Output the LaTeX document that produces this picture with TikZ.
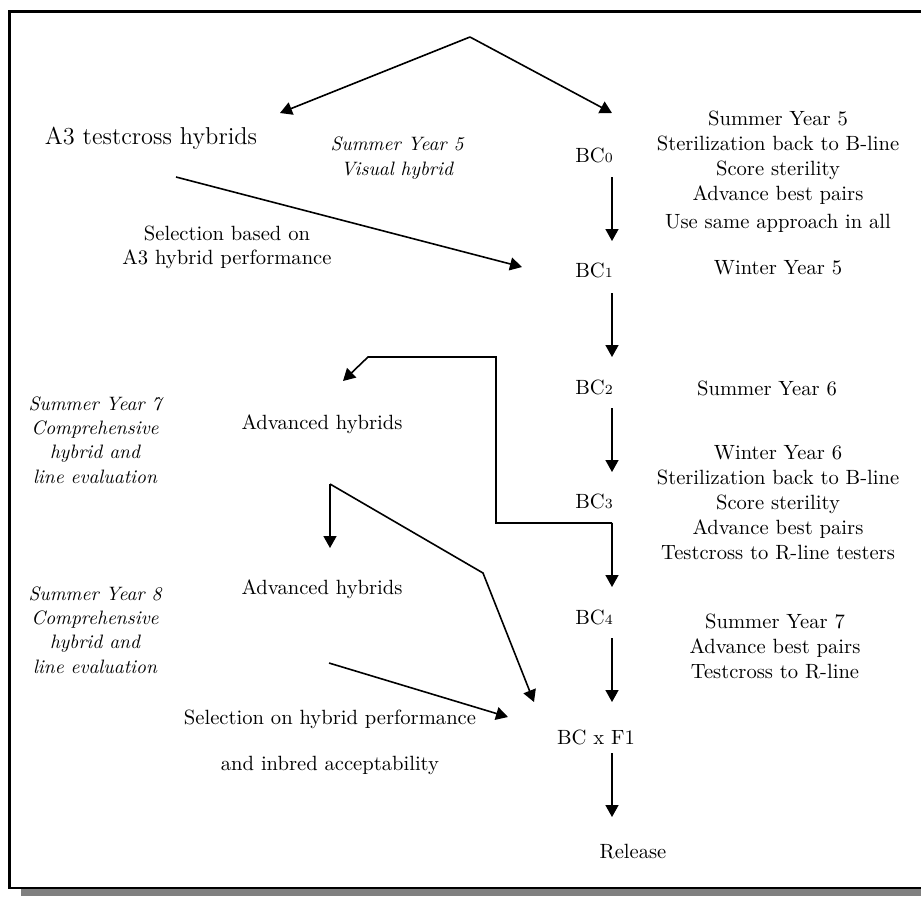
\documentclass[tikz,border=0pt]{standalone}
\usetikzlibrary{arrows.meta}

\newcommand{\gen}[1]{BC{\scriptsize #1}}

\tikzset{
  flow/.style={line width=0.8pt,-{Triangle[length=6pt,width=6.5pt]}},
  txt/.style={inner sep=0pt,align=center,font=\fontsize{10.3}{12.5}\selectfont},
  note/.style={inner sep=0pt,align=center,font=\fontsize{9.7}{12.2}\selectfont\itshape},
}

\begin{document}
\begin{tikzpicture}[x=0.5pt,y=-0.5pt]
    \useasboundingbox (0,0) rectangle (921,896);
    \clip (0,0) rectangle (921,896);
    % frame and its shadow
    \fill[black!50] (21,24) rectangle (960,896);
    \filldraw[fill=white,line width=1.3pt] (9.3,11.3) rectangle (950,888);

    % generations
    \node[txt] (bc0) at (594,155) {\gen{0}};
    \node[txt] (bc1) at (594,270) {\gen{1}};
    \node[txt] (bc2) at (594,387) {\gen{2}};
    \node[txt] (bc3) at (594,501) {\gen{3}};
    \node[txt] (bc4) at (594,617) {\gen{4}};
    \node[txt] (bcf) at (596,737) {BC x F1};
    \node[txt] (rel) at (633,852) {Release};

    % seasons
    \node[txt] (s0) at (778,172) {Summer Year 5\\Sterilization back to B-line\\Score sterility\\Advance best pairs\\[1.5pt]Use same approach in all};
    \node[txt] (s1) at (778,268) {Winter Year 5};
    \node[txt] (s2) at (767,388) {Summer Year 6};
    \node[txt] (s3) at (778,503) {Winter Year 6\\Sterilization back to B-line\\Score sterility\\Advance best pairs\\Testcross to R-line testers};
    \node[txt] (s4) at (775,646) {Summer Year 7\\Advance best pairs\\Testcross to R-line};

    % hybrids side
    \node[txt,font=\fontsize{12.2}{14}\selectfont] (a3) at (151,138) {A3 testcross hybrids};
    \node[note] (n5) at (397,158) {Summer Year 5\\Visual hybrid};
    \node[txt,font=\fontsize{10.3}{12}\selectfont] (selA) at (227,247) {Selection based on\\A3 hybrid performance};
    \node[txt] (advA) at (322,424) {Advanced hybrids};
    \node[note] (n7) at (95,440) {Summer Year 7\\Comprehensive\\hybrid and\\line evaluation};
    \node[txt] (advB) at (322,589) {Advanced hybrids};
    \node[note] (n8) at (95,630) {Summer Year 8\\Comprehensive\\hybrid and\\line evaluation};
    \node[txt] (selB) at (330,742) {Selection on hybrid performance\\[10.5pt]and inbred acceptability};

    % arrows
    \coordinate (T) at (470,37);
    \coordinate (L) at (280,113);
    \coordinate (R) at (612,113);
    \draw[flow] (T)--(L);
    \draw[flow] (T)--(R);

    \draw[flow] (612,177)--(612,241);
    \draw[flow] (612,293)--(612,357);
    \draw[flow] (612,408)--(612,472);
    \coordinate (J) at (612,523);
    \coordinate (E) at (496,357);
    \coordinate (F) at (368,357);
    \coordinate (G) at (343,381);
    \draw[flow] (J)--(612,587);
    \draw[flow] (J) -| (E) -- (F) -- (G);
    \draw[flow] (612,638)--(612,702);
    \draw[flow] (612,753)--(612,817);

    \draw[flow] (176,177)--(522,267);
    \coordinate (V) at (330,484);
    \coordinate (K) at (483,573);
    \draw[flow] (V)--(330,548);
    \draw[flow] (V)--(K)--(534,702);
    \draw[flow] (329,663)--(508,717);
\end{tikzpicture}
\end{document}
